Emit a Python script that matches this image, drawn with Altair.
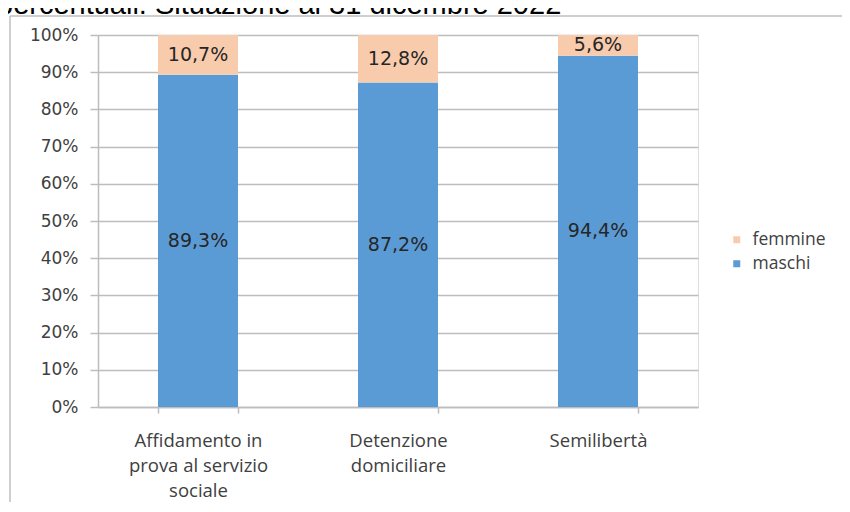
import altair as alt
import pandas as pd

# ---- data ----
categories = ["Affidamento in prova al servizio sociale", "Detenzione domiciliare", "Semilibertà"]
category_lines = [["Affidamento in", "prova al servizio", "sociale"], ["Detenzione", "domiciliare"], ["Semilibertà"]]
maschi = [89.3, 87.2, 94.4]
femmine = [10.7, 12.8, 5.6]
series = ["femmine", "maschi"]
series_colors = ["#F8CBAD", "#5B9BD5"]
y_ticks = [0, 10, 20, 30, 40, 50, 60, 70, 80, 90, 100]
title_text = "percentuali. Situazione al 31 dicembre 2022"

rows = []
for c, m, f in zip(categories, maschi, femmine):
    rows.append({"cat": c, "sesso": "maschi", "val": m, "ord": 0})
    rows.append({"cat": c, "sesso": "femmine", "val": f, "ord": 1})
df = pd.DataFrame(rows)

# multi-line category labels
expr = "[]"
for c, lines in reversed(list(zip(categories, category_lines))):
    arr = "[" + ",".join("'" + l + "'" for l in lines) + "]"
    expr = f"datum.label == '{c}' ? {arr} : ({expr})"

base = alt.Chart(df).transform_stack(
    stack="val", groupby=["cat"], sort=[alt.SortField("ord", order="ascending")], as_=["v0", "v1"]
).transform_calculate(
    mid="(datum.v0 + datum.v1) / 2",
    lab="replace(format(datum.val, '.1f'), '.', ',') + '%'",
)

x_axis = alt.Axis(
    title=None, labelAngle=0, labelExpr=expr, tickBand="extent",
    labelFont="Open Sans", labelFontSize=18.5, labelColor="#404040",
    labelLineHeight=25, labelPadding=18, tickSize=6,
    domainColor="#BDBDBD", tickColor="#BDBDBD", domainWidth=1.5, tickWidth=1.5,
    grid=False, labelBaseline="top",
)
y_axis = alt.Axis(
    title=None, values=y_ticks, labelExpr="datum.value + '%'", labelOverlap=False,
    labelFont="DejaVu Sans", labelFontSize=17, labelColor="#404040",
    labelPadding=12, tickSize=8, grid=True, gridColor="#BDBDBD", gridWidth=1.5,
    domainColor="#BDBDBD", tickColor="#BDBDBD", domainWidth=1.5, tickWidth=1.5,
)
x_scale = alt.Scale(paddingInner=0.6, paddingOuter=0.3)
y_scale = alt.Scale(domain=[0, 100], nice=False)

bars = base.mark_bar().encode(
    x=alt.X("cat:N", sort=categories, scale=x_scale, axis=x_axis),
    y=alt.Y("v0:Q", scale=y_scale, axis=y_axis),
    y2="v1:Q",
    color=alt.Color(
        "sesso:N",
        scale=alt.Scale(domain=series, range=series_colors),
        legend=alt.Legend(
            title=None, orient="none", legendX=630, legendY=196,
            symbolType="square", symbolSize=49, symbolStrokeWidth=0,
            labelFont="Open Sans", labelFontSize=17.5, labelColor="#404040",
            labelOffset=7, rowPadding=5, padding=0,
        ),
    ),
)

labels = base.mark_text(font="DejaVu Sans", fontSize=19, color="#262626", baseline="middle").encode(
    x=alt.X("cat:N", sort=categories, scale=x_scale, axis=x_axis),
    y=alt.Y("mid:Q", scale=y_scale, axis=y_axis),
    text="lab:N",
)

frame_top = alt.Chart(pd.DataFrame({"a": [0]})).mark_rule(color="#BFBFBF", strokeWidth=1.5).encode(
    x=alt.value(-88), x2=alt.value(800), y=alt.value(-19)
)
frame_left = alt.Chart(pd.DataFrame({"a": [0]})).mark_rule(color="#BFBFBF", strokeWidth=1.5).encode(
    x=alt.value(-88), y=alt.value(-19), y2=alt.value(600)
)
title = alt.Chart(pd.DataFrame({"t": [title_text]})).mark_text(
    font="Liberation Sans", fontSize=29, color="#000000", align="left", baseline="alphabetic"
).encode(x=alt.value(-101), y=alt.value(-21), text="t:N")

chart = alt.layer(frame_top, frame_left, title, bars, labels).properties(
    width=600, height=372,
    padding={"left": 90, "top": 27, "right": 144, "bottom": 95},
    autosize=alt.AutoSizeParams(type="none"),
).configure_view(stroke=None).configure(background="white")

chart.save("out.html", embed_options={"renderer": "svg", "actions": False})
